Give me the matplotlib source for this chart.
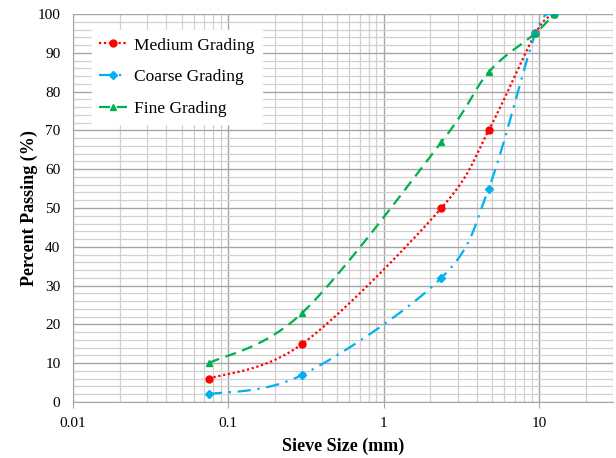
import numpy as np
import matplotlib
matplotlib.use("Agg")
import matplotlib.pyplot as plt
from matplotlib.ticker import LogLocator, FixedLocator, NullFormatter, FixedFormatter

plt.rcParams['font.family'] = ['Liberation Serif', 'DejaVu Serif']

# sieve sizes (mm) and percent passing
sieve = [0.075, 0.3, 2.36, 4.75, 9.5, 12.5]
medium = [6, 15, 50, 70, 95, 100]
coarse = [2, 7, 32, 55, 95, 100]
fine = [10, 23, 67, 85, 95, 100]

xticks = [0.01, 0.1, 1, 10]
xticklabels = ['0.01', '0.1', '1', '10']

XMIN, XMAX = 0.01, 30


def smooth(xs, ys, n=40):
    # excel-like smoothed line (bezier through points, done in log-x space)
    lx = (np.log10(xs) - np.log10(XMIN)) / (np.log10(XMAX) - np.log10(XMIN)) * 540
    ly = np.array(ys, float) / 100 * 388
    p = np.column_stack([lx, ly])
    out = []
    for i in range(len(p) - 1):
        p0 = p[i - 1] if i > 0 else p[i]
        p1, p2 = p[i], p[i + 1]
        p3 = p[i + 2] if i + 2 < len(p) else p[i + 1]
        c1 = p1 + (p2 - p0) / 6
        c2 = p2 - (p3 - p1) / 6
        t = np.linspace(0, 1, n)[:, None]
        seg = (1 - t) ** 3 * p1 + 3 * (1 - t) ** 2 * t * c1 + 3 * (1 - t) * t ** 2 * c2 + t ** 3 * p2
        out.append(seg if i == 0 else seg[1:])
    out = np.vstack(out)
    x = 10 ** (out[:, 0] / 540 * (np.log10(XMAX) - np.log10(XMIN)) + np.log10(XMIN))
    y = out[:, 1] / 388 * 100
    return x, y


fig = plt.figure(figsize=(6.16, 4.58), dpi=100)
ax = fig.add_axes([0.1185, 0.1223, 0.8765, 0.8471])

red = '#FF0000'
blue = '#00B0F0'
green = '#00B050'

x, y = smooth(sieve, medium)
ax.plot(x, y, color=red, ls=(0, (1, 1.2)), lw=1.6)
ax.plot(sieve, medium, 'o', color=red, ms=5)
ax.plot([], [], color=red, ls=(0, (1, 1.2)), lw=1.6, marker='o', ms=5, label='Medium Grading')

x, y = smooth(sieve, coarse)
ax.plot(x, y, color=blue, ls=(0, (6, 3, 1, 3)), lw=1.6)
ax.plot(sieve, coarse, 'D', color=blue, ms=4)
ax.plot([], [], color=blue, ls=(0, (6, 3, 1, 3)), lw=1.6, marker='D', ms=4, label='Coarse Grading')

x, y = smooth(sieve, fine)
ax.plot(x, y, color=green, ls=(0, (5, 3)), lw=1.6)
ax.plot(sieve, fine, '^', color=green, ms=5)
ax.plot([], [], color=green, ls=(0, (5, 3)), lw=1.6, marker='^', ms=5, label='Fine Grading')

ax.set_xscale('log')
ax.set_xlim(XMIN, XMAX)
ax.set_ylim(0, 100)
ax.xaxis.set_major_locator(FixedLocator(xticks))
ax.xaxis.set_major_formatter(FixedFormatter(xticklabels))
ax.xaxis.set_minor_locator(LogLocator(base=10, subs=np.arange(2, 10)))
ax.xaxis.set_minor_formatter(NullFormatter())
ax.set_yticks(range(0, 101, 10))
ax.set_yticks(range(0, 101, 2), minor=True)

ax.grid(which='major', color='#A6A6A6', lw=1.0)
ax.grid(which='minor', color='#D0D0D0', lw=0.9)
ax.set_axisbelow(True)
ax.tick_params(which='minor', length=0)
ax.tick_params(which='major', labelsize=11, length=4, color='#A6A6A6')
ax.tick_params(axis='x', pad=7)
ax.tick_params(axis='y', length=0, pad=9)

for s in ['top', 'right']:
    ax.spines[s].set_visible(False)
ax.spines['left'].set_color('#A6A6A6')
ax.spines['bottom'].set_color('#A6A6A6')

ax.set_xlabel('Sieve Size (mm)', fontsize=13, fontweight='bold', labelpad=5)
ax.set_ylabel('Percent Passing (%)', fontsize=13, fontweight='bold', labelpad=0)

leg = ax.legend(loc='upper left', bbox_to_anchor=(0.02, 0.98), fontsize=12.5, frameon=True,
                fancybox=False, edgecolor='white', framealpha=1, handlelength=1.6,
                labelspacing=0.9, handletextpad=0.4)

fig.savefig('out.png', dpi=100)
